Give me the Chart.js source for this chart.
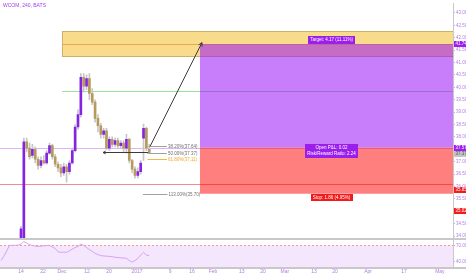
<!DOCTYPE html>
<html><head><meta charset="utf-8">
<script src="https://cdn.jsdelivr.net/npm/chart.js@4.4.0/dist/chart.umd.min.js"></script>
<style>html,body{margin:0;padding:0;background:#fff;overflow:hidden}canvas{display:block}</style>
</head><body>
<canvas id="c" width="466" height="275" style="width:466px;height:275px"></canvas>
<script>
// ---- data ----
const chartTitle = 'WCOM, 240, BATS';
const barIndex = [-7,-6,-5,-4,-3,-2,-1,0,1,2,3,4,5,6,7,8,9,10,11,12,13,14,15,16,17,18,19,20,21,22,23,24,25,26,27,28,29,30,31,32,33,34,35,36,37,38,39,40,41,42,43,44,45];
const opens  = [33.40,33.45,33.50,33.60,33.65,33.60,33.65,33.60,33.75,37.80,37.55,37.25,37.50,37.10,36.85,37.05,36.95,37.35,37.65,37.20,36.90,36.75,36.55,36.80,36.60,36.95,37.45,38.40,38.90,40.40,40.05,40.35,39.75,39.40,38.75,38.45,38.10,38.25,37.55,37.90,37.70,37.85,37.65,37.75,37.55,37.90,37.05,36.70,36.45,36.60,37.95,38.35,37.50];
const highs  = [33.55,33.60,33.70,33.75,33.78,33.75,33.80,34.40,37.95,37.95,37.75,37.70,37.60,37.20,37.20,37.25,37.45,37.75,37.70,37.30,37.00,36.90,36.95,36.90,37.05,37.55,38.50,39.10,40.55,40.55,40.50,40.55,39.95,39.50,38.90,38.55,38.35,38.35,38.00,38.00,37.95,37.95,37.85,37.85,38.10,37.95,37.10,36.80,36.75,37.05,38.52,38.40,37.70];
const lows   = [33.30,33.35,33.40,33.50,33.52,33.50,33.55,33.55,33.70,37.40,37.10,37.15,36.95,36.70,36.75,36.90,36.90,37.30,37.10,36.80,36.60,36.40,36.45,36.18,36.50,36.90,37.40,38.30,38.80,39.80,39.90,39.50,39.30,38.60,38.20,37.95,37.95,37.50,37.45,37.60,37.60,37.55,37.55,37.40,37.35,36.95,36.55,36.34,36.35,36.50,37.05,37.45,37.33];
const closes = [33.45,33.50,33.60,33.65,33.60,33.65,33.70,34.30,37.80,37.55,37.20,37.50,37.10,36.85,37.05,36.95,37.35,37.65,37.20,36.90,36.75,36.55,36.80,36.60,36.95,37.45,38.40,38.90,40.40,40.05,40.35,39.75,39.40,38.75,38.45,38.10,38.25,37.55,37.90,37.70,37.85,37.65,37.75,37.55,37.90,37.05,36.70,36.45,36.60,36.95,38.35,37.55,37.37];
const rsiValues = [42,50,60,70,70,70,70.5,72,77,74,71,70,68.5,68,68.5,69,69.5,70,67,64,58,57,57.5,57,60,63,66,68,72,70,66,62,59,55,53,51,50.5,50,49.5,49,48,47.5,47,46.5,46,42,39,42,46,52,57,52,51];
const timeTickPos    = [0,7.7,14.4,23.2,30.9,40.7,52.3,60,67.4,77.5,84.9,92.6,102.8,110.2,121.8,134.4,147];
const timeTickLabels = ['14','22','Dec','12','20','2017','9','16','Feb','13','20','Mar','13','20','Apr','17','May'];
const priceTicks = [34,34.5,35,35.5,36,36.5,37,37.5,38,38.5,39,39.5,40,40.5,41,41.5,42,42.5,43];
const rsiTicks = [40,70];
const rsiBands = [70,30];
// long position tool
const entryPrice = 37.57, targetPrice = 41.74, stopPrice = 35.71;
const positionStartIdx = 62.8, positionLabelIdx = 109;
const targetText = ['Target: 4.17 (11.11%)'];
const pnlText = ['Open P&L: 0.02','Risk/Reward Ratio: 2.24'];
const stopText = ['Stop: 1.86 (4.95%)'];
// rectangle drawing
const boxStartIdx = 14.4, boxTopPrice = 42.26, boxBottomPrice = 41.26, boxLinePrice = 41.74;
// horizontal lines
const purpleLinePrice = 37.57, redLinePrice = 36.09, greenLinePrice = 39.87, greenStartIdx = 14.4;
// fib levels
const fibPrices = [37.64,37.37,37.11,35.70];
const fibLabels = ['38.20%(37.64)','50.00%(37.37)','61.80%(37.11)','113.00%(35.70)'];
const fibStartIdx = [44.7,44.4,44.4,42.8];
const fibEndIdx = [51.2,51.2,51.2,51.4];
// arrows
const trendArrow = [[45.3,37.62],[63.5,41.80]];
const backArrow = [[44.6,37.40],[28.8,37.40]];
// axis tags
const axisTags = [[41.74,'41.74','#9c1ff0','#fff'],[37.57,'37.57','#9c1ff0','#fff'],[37.33,'37.37','#c4c4c4','#555'],[35.85,'35.85','#f21a1a','#fff'],[35.02,'35.02','#f21a1a','#fff']];

// ---- chart ----
const F = '"Liberation Sans", Arial, sans-serif';
const UP = '#8424e0', DOWN = '#b59a5c', WICK = '#c6c6c6';
const AX = '#b57be8';

function arrow(ctx, x1, y1, x2, y2, s) {
  ctx.beginPath(); ctx.moveTo(x1, y1); ctx.lineTo(x2, y2); ctx.stroke();
  const a = Math.atan2(y2 - y1, x2 - x1);
  ctx.beginPath();
  ctx.moveTo(x2 - s * Math.cos(a - 0.5), y2 - s * Math.sin(a - 0.5));
  ctx.lineTo(x2, y2);
  ctx.lineTo(x2 - s * Math.cos(a + 0.5), y2 - s * Math.sin(a + 0.5));
  ctx.stroke();
}
function tag(ctx, cx, top, lines, bg, fg, size, lh) {
  ctx.font = size + 'px ' + F;
  const w = Math.max(...lines.map(t => ctx.measureText(t).width)) + 4;
  const h = lines.length * lh + 2;
  ctx.fillStyle = bg;
  ctx.fillRect(Math.round(cx - w / 2), Math.round(top), Math.round(w), h);
  ctx.fillStyle = fg; ctx.textAlign = 'center'; ctx.textBaseline = 'middle';
  lines.forEach((t, i) => ctx.fillText(t, cx, Math.round(top) + 1 + lh * (i + 0.5)));
}

const drawings = {
  id: 'drawings',
  beforeDatasetsDraw(chart) {
    const {ctx, chartArea: ca, scales} = chart;
    const X = scales.x, Y = scales.y, R = scales.yr;
    const L = ca.left, RR = ca.right;
    // RSI pane
    ctx.save();
    const y70 = R.getPixelForValue(rsiBands[0]), y30 = R.getPixelForValue(rsiBands[1]);
    ctx.fillStyle = '#f4e6fc';
    ctx.fillRect(L, y70, RR - L, y30 - y70);
    ctx.setLineDash([2, 2]); ctx.lineWidth = 1;
    ctx.strokeStyle = '#f29a9a';
    ctx.beginPath(); ctx.moveTo(L, Math.round(y70) + 0.5); ctx.lineTo(RR, Math.round(y70) + 0.5); ctx.stroke();
    ctx.strokeStyle = '#8fd28f';
    ctx.beginPath(); ctx.moveTo(L, Math.round(y30) + 0.5); ctx.lineTo(RR, Math.round(y30) + 0.5); ctx.stroke();
    ctx.restore();

    ctx.save();
    ctx.beginPath(); ctx.rect(L, Y.top, RR - L, Y.bottom - Y.top); ctx.clip();
    const hl = (p, x0, c) => { const yy = Math.round(Y.getPixelForValue(p)) + 0.5; ctx.strokeStyle = c; ctx.lineWidth = 1; ctx.beginPath(); ctx.moveTo(x0, yy); ctx.lineTo(RR, yy); ctx.stroke(); };
    hl(purpleLinePrice, L, '#dcb4fb');
    hl(redLinePrice, L, '#f28c8c');
    hl(greenLinePrice, X.getPixelForValue(greenStartIdx), '#96e696');
    // yellow rectangle
    const bx = X.getPixelForValue(boxStartIdx);
    const bt = Y.getPixelForValue(boxTopPrice), bb = Y.getPixelForValue(boxBottomPrice);
    ctx.fillStyle = '#f8dc8c';
    ctx.fillRect(bx, bt, RR - bx, bb - bt);
    ctx.strokeStyle = '#cdb06c'; ctx.lineWidth = 1;
    ctx.strokeRect(Math.round(bx) + 0.5, Math.round(bt) + 0.5, RR - bx, Math.round(bb - bt));
    hl(boxLinePrice, bx, '#eaa650');
    // position zones
    const zx = X.getPixelForValue(positionStartIdx);
    const yt = Y.getPixelForValue(targetPrice), ye = Y.getPixelForValue(entryPrice), ys = Y.getPixelForValue(stopPrice);
    ctx.fillStyle = 'rgba(155,19,246,0.55)';
    ctx.fillRect(zx, yt, RR - zx, ye - yt);
    ctx.fillStyle = 'rgba(255,0,0,0.5)';
    ctx.fillRect(zx, ye, RR - zx, ys - ye);
    ctx.restore();
  },
  afterDatasetsDraw(chart) {
    const {ctx, chartArea: ca, scales} = chart;
    const X = scales.x, Y = scales.y;
    ctx.save();
    ctx.beginPath(); ctx.rect(ca.left, Y.top, ca.right - ca.left, Y.bottom - Y.top); ctx.clip();
    // fib levels
    ctx.font = '4.5px ' + F; ctx.textBaseline = 'middle'; ctx.textAlign = 'left';
    fibPrices.forEach((p, i) => {
      const yy = Math.round(Y.getPixelForValue(p)) + 0.5;
      const c = i === 2 ? '#f5b740' : '#a0a0a0';
      ctx.strokeStyle = c; ctx.lineWidth = 1;
      const x1 = X.getPixelForValue(fibEndIdx[i]);
      ctx.beginPath(); ctx.moveTo(X.getPixelForValue(fibStartIdx[i]), yy); ctx.lineTo(x1, yy); ctx.stroke();
      ctx.fillStyle = i === 2 ? '#f0aa30' : '#707070';
      ctx.fillText(fibLabels[i], x1 + 1, yy);
    });
    // arrows
    ctx.strokeStyle = '#3a3a3a'; ctx.lineWidth = 1;
    arrow(ctx, X.getPixelForValue(trendArrow[0][0]), Y.getPixelForValue(trendArrow[0][1]), X.getPixelForValue(trendArrow[1][0]), Y.getPixelForValue(trendArrow[1][1]), 4);
    const by = Math.round(Y.getPixelForValue(backArrow[0][1])) + 0.5;
    arrow(ctx, X.getPixelForValue(backArrow[0][0]), by, X.getPixelForValue(backArrow[1][0]), by, 3);
    // labels
    const cx = X.getPixelForValue(positionLabelIdx);
    tag(ctx, cx, Y.getPixelForValue(targetPrice) - 8, targetText, '#9a1eec', '#fff', 4.5, 6);
    tag(ctx, cx, Y.getPixelForValue(entryPrice) - 4, pnlText, '#9a1eec', '#fff', 4.5, 6);
    tag(ctx, cx, Y.getPixelForValue(stopPrice) + 0.5, stopText, '#f21a1a', '#fff', 4.5, 5);
    ctx.restore();
  },
  afterDraw(chart) {
    const {ctx, chartArea: ca, scales} = chart;
    const Y = scales.y;
    ctx.save();
    // pane separators
    ctx.fillStyle = '#c8c8c8';
    ctx.fillRect(0, Math.round(Y.bottom) - 1, chart.width, 2);
    ctx.fillRect(0, Math.round(ca.bottom) - 1, chart.width, 2);
    // axis tags
    ctx.font = '4.5px ' + F; ctx.textBaseline = 'middle'; ctx.textAlign = 'left';
    axisTags.forEach(([p, t, bg, fg]) => {
      const yy = Math.round(Y.getPixelForValue(p));
      ctx.fillStyle = bg; ctx.fillRect(ca.right + 1, yy - 3, 12, 6);
      ctx.fillStyle = fg; ctx.fillText(t, ca.right + 2.5, yy);
    });
    // title
    ctx.fillStyle = '#a43cf0'; ctx.font = '5px ' + F; ctx.textBaseline = 'middle';
    ctx.fillText(chartTitle, 3, 6);
    ctx.restore();
  }
};

const bodyData = barIndex.map((i, k) => ({x: i, y: [opens[k], closes[k]]}));
const wickData = barIndex.map((i, k) => ({x: i, y: [lows[k], highs[k]]}));
const bodyColors = barIndex.map((i, k) => closes[k] >= opens[k] ? UP : DOWN);
const rsiData = barIndex.map((i, k) => ({x: i, y: rsiValues[k]}));

new Chart(document.getElementById('c'), {
  type: 'bar',
  data: {datasets: [
    {label: 'body', data: bodyData, xAxisID: 'x', yAxisID: 'y', backgroundColor: bodyColors, barThickness: 2, grouped: false, order: 0, borderWidth: 0},
    {label: 'wick', data: wickData, xAxisID: 'x', yAxisID: 'y', backgroundColor: WICK, barThickness: 1, grouped: false, order: 1, borderWidth: 0},
    {type: 'line', label: 'RSI', data: rsiData, xAxisID: 'x', yAxisID: 'yr', borderColor: '#d9a2ee', borderWidth: 1, pointRadius: 0, tension: 0, order: 2}
  ]},
  options: {
    responsive: false, animation: false, devicePixelRatio: 1,
    layout: {padding: 0},
    plugins: {legend: {display: false}, tooltip: {enabled: false}, title: {display: false}},
    scales: {
      x: {
        type: 'linear', min: -7.37, max: 151.6, offset: false, position: 'bottom',
        grid: {display: false, drawTicks: false, offset: false},
        border: {display: false},
        ticks: {autoSkip: false, maxRotation: 0, minRotation: 0, padding: 1, font: {size: 5, family: F}, color: AX,
          callback: (v, i) => timeTickLabels[i]},
        afterBuildTicks: s => { s.ticks = timeTickPos.map(v => ({value: v})); },
        afterFit: s => { s.height = 7; }
      },
      y: {
        type: 'linear', position: 'right', stack: 'pane', stackWeight: 239,
        min: 33.87, max: 43.37, beginAtZero: false,
        grid: {display: true, drawOnChartArea: false, drawTicks: true, tickLength: 2, color: '#bdbdbd'},
        border: {display: true, color: '#c8c8c8', width: 1},
        ticks: {autoSkip: false, padding: 1, font: {size: 4.5, family: F}, color: AX, callback: v => Number(v).toFixed(2)},
        afterBuildTicks: s => { s.ticks = priceTicks.map(v => ({value: v})); },
        afterFit: s => { s.width = 13; }
      },
      yr: {
        type: 'linear', position: 'right', stack: 'pane', stackWeight: 29,
        min: 28.2, max: 80.9, beginAtZero: false,
        grid: {display: true, drawOnChartArea: false, drawTicks: true, tickLength: 2, color: '#bdbdbd'},
        border: {display: true, color: '#c8c8c8', width: 1},
        ticks: {autoSkip: false, padding: 1, font: {size: 4.5, family: F}, color: AX, callback: v => Number(v).toFixed(4)},
        afterBuildTicks: s => { s.ticks = rsiTicks.map(v => ({value: v})); },
        afterFit: s => { s.width = 13; }
      }
    }
  },
  plugins: [drawings]
});
</script>
</body></html>
